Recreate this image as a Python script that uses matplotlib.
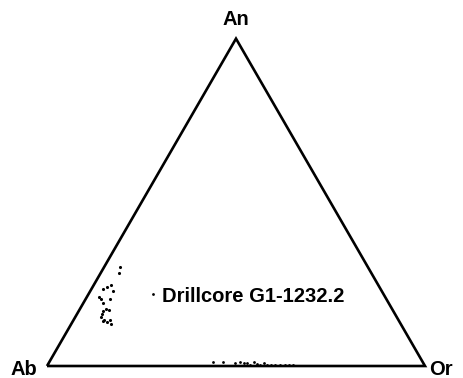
import numpy as np
import matplotlib.pyplot as plt

# feldspar compositions, mole fractions (An, Or); Ab = 1 - An - Or
plag_an = [0.302, 0.284, 0.247, 0.241, 0.229, 0.235, 0.211, 0.205, 0.205, 0.192,
           0.174, 0.171, 0.168, 0.159, 0.150, 0.141, 0.134, 0.141, 0.128, 0.137]
plag_or = [0.042, 0.048, 0.046, 0.038, 0.060, 0.030, 0.032, 0.040, 0.064, 0.052,
           0.069, 0.078, 0.064, 0.067, 0.068, 0.081, 0.092, 0.096, 0.105, 0.079]

kfs_an = [0.012, 0.012, 0.009, 0.012, 0.009, 0.009, 0.003, 0.012, 0.006, 0.003,
          0.009, 0.003, 0.003, 0.003, 0.003, 0.003, 0.003, 0.003]
kfs_or = [0.433, 0.460, 0.493, 0.505, 0.517, 0.525, 0.535, 0.542, 0.553, 0.562,
          0.570, 0.580, 0.591, 0.601, 0.615, 0.628, 0.638, 0.649]

corners = ['Ab', 'Or', 'An']
sample = 'Drillcore G1-1232.2'

h = np.sqrt(3) / 2


def to_xy(an, orth):
    an = np.asarray(an)
    orth = np.asarray(orth)
    return orth + an / 2, an * h


fig = plt.figure(figsize=(4.64, 3.78), dpi=100)
ax = fig.add_axes([0, 0, 1, 1])
# Ab at (47,366), Or at (425,366) on a 464x378 canvas
s = 378.0
ax.set_xlim(-47 / s, (464 - 47) / s)
ax.set_ylim(-(378 - 366) / s, 366 / s)
ax.axis('off')

ax.plot([0, 1, 0.5, 0], [0, 0, h, 0], color='black', lw=1.9,
        solid_joinstyle='miter', solid_capstyle='butt')

x, y = to_xy(plag_an, plag_or)
ax.scatter(x, y, s=5, color='black', lw=0)
x, y = to_xy(kfs_an, kfs_or)
ax.scatter(x, y, s=4, color='black', lw=0)

font = dict(family='Liberation Sans', fontweight='bold', fontsize=14.5, color='black')
ax.text(-0.027, -0.008, corners[0], ha='right', va='center', **font)
ax.text(1.01, -0.009, corners[1], ha='left', va='center', **font)
ax.text(0.5, h + 0.05, corners[2], ha='center', va='center', **font)

ax.scatter([(153 - 47) / s], [(366 - 294) / s], s=4, color='black', lw=0)
ax.text((162 - 47) / s, (366 - 296) / s, sample, ha='left', va='center', **font)

fig.savefig('out.png', dpi=100)
